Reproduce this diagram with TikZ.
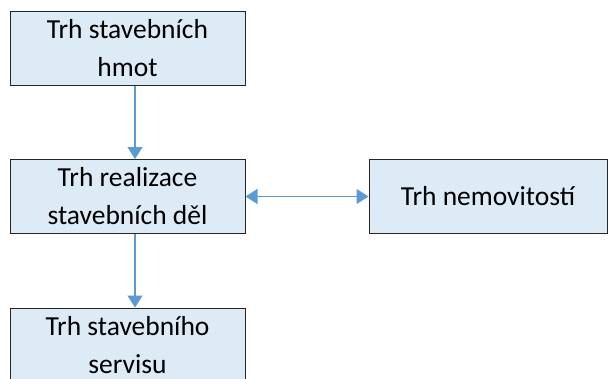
\documentclass[tikz,border=0pt]{standalone}
\usepackage{fontspec}
\setmainfont{Carlito}
\usetikzlibrary{arrows.meta}
\definecolor{boxfill}{HTML}{DDEBF7}
\definecolor{arrowblue}{HTML}{5B9BD5}
\definecolor{boxline}{HTML}{262626}

\begin{document}
\begin{tikzpicture}[x=1pt,y=-1pt,>={Triangle[width=15pt,length=12pt]},
  market node/.style={rectangle,fill=boxfill,draw=boxline,line width=1pt,minimum width=235pt,minimum height=74pt,align=center,inner sep=0pt,font=\fontsize{27.5}{38}\selectfont}]
  \useasboundingbox (0,0) rectangle (608,378);
  \node[market node] (1) at (127.5,48) {Trh stavebních\\hmot};
  \node[market node] (2) at (127.5,196.5) {Trh realizace\\stavebních děl};
  \node[market node,minimum width=238pt] (3) at (488,196.5) {Trh nemovitostí};
  \node[market node] (4) at (127.5,345) {Trh stavebního\\servisu};

\path[color=arrowblue,line width=1.3pt]
  ([xshift=7.5pt]1.south) edge[->] ([xshift=7.5pt]2.north)
  ([xshift=7.5pt]2.south) edge[->] ([xshift=7.5pt]4.north)
  (2) edge[<->] (3)
;
\end{tikzpicture}
\end{document}
